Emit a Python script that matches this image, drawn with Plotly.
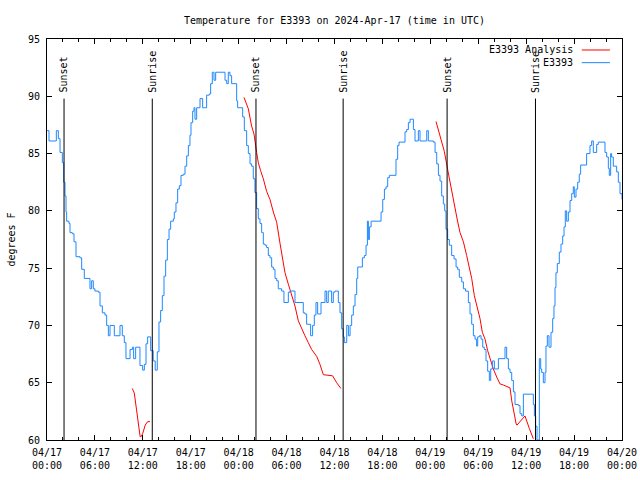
import pandas as pd
import plotly.graph_objects as go

# ---------------- data ----------------
BASE = "2024-04-17 00:00"

# E3393 observed temperature (hours since 04/17 00:00 UTC, degrees F)
obs_hours = [0.00, 0.25, 1.17, 1.42, 1.63, 1.92, 2.09, 2.25, 2.38, 2.46, 2.75, 2.88, 3.17, 3.38, 3.63,
             4.13, 4.34, 4.67, 5.38, 5.59, 5.80, 6.00, 6.43, 6.64, 6.93, 7.26, 7.47, 7.68, 7.89, 8.43,
             9.14, 9.43, 9.68, 9.89, 10.40, 10.70, 10.85, 11.10, 11.64, 11.98, 12.19, 12.40, 12.60,
             12.98, 13.30, 13.55, 13.81, 14.02, 14.23, 14.44, 14.65, 14.86, 15.07, 15.28, 15.48, 15.82,
             15.94, 16.15, 16.36, 16.57, 16.78, 17.07, 17.28, 17.49, 17.70, 17.90, 18.03, 18.24, 18.41,
             18.53, 18.74, 19.16, 19.49, 19.99, 20.32, 20.49, 20.70, 20.91, 21.12, 22.29, 22.50, 22.70,
             22.91, 23.12, 23.75, 23.87, 24.50, 24.71, 25.00, 25.21, 25.42, 25.62, 25.83, 26.04, 26.25,
             26.46, 26.67, 26.88, 27.09, 27.30, 27.50, 27.71, 27.92, 28.13, 28.34, 28.55, 28.76, 28.96,
             29.38, 29.67, 30.22, 30.43, 31.05, 32.09, 32.30, 32.51, 33.01, 33.26, 33.47, 33.68, 33.89,
             34.31, 34.81, 35.02, 35.22, 35.64, 35.85, 36.06, 36.48, 36.69, 36.90, 37.10, 37.23, 37.53,
             37.74, 37.95, 38.15, 38.36, 38.57, 38.78, 38.91, 39.49, 39.74, 39.95, 40.12, 40.24, 40.37,
             40.58, 41.83, 42.04, 42.25, 42.45, 42.66, 42.87, 43.70, 43.91, 44.08, 44.83, 45.04, 45.25,
             45.46, 45.88, 46.08, 46.50, 46.71, 47.55, 47.75, 48.38, 48.59, 48.80, 49.01, 49.21, 49.42,
             49.63, 49.80, 49.96, 50.17, 50.38, 50.67, 50.97, 51.22, 51.42, 51.63, 51.93, 52.14, 52.40,
             52.76, 52.97, 53.18, 53.39, 53.60, 53.80, 53.93, 54.14, 54.35, 54.56, 54.76, 54.97, 55.18,
             55.39, 55.56, 55.77, 56.02, 56.52, 57.35, 57.56, 57.77, 57.98, 58.19, 58.40, 58.60, 59.02,
             59.23, 59.44, 59.65, 60.69, 60.90, 61.03, 61.19, 61.36, 61.65, 61.82, 61.94, 62.15, 62.36,
             62.48, 62.65, 62.86, 63.11, 63.32, 63.48, 63.61, 63.73, 63.90, 64.15, 64.36, 64.57, 64.74,
             64.90, 65.07, 65.28, 65.49, 65.70, 65.90, 66.03, 66.24, 66.45, 66.65, 66.82, 67.57, 67.99,
             68.20, 68.41, 68.83, 69.03, 69.87, 70.08, 70.29, 70.41, 70.58, 70.70, 70.91, 71.33, 71.54,
             71.75, 72.00]
obs_temps = [87.0, 86.1, 87.0, 86.3, 85.1, 84.2, 82.5, 81.3, 79.9, 79.1, 78.9, 78.1, 78.0, 77.3, 76.0,
             75.9, 74.9, 74.1, 73.2, 73.9, 73.2, 73.0, 72.9, 71.7, 71.1, 70.9, 70.0, 69.1, 70.0, 69.1,
             70.0, 69.1, 68.5, 67.1, 67.9, 68.1, 67.1, 68.1, 66.5, 66.1, 66.6, 68.4, 69.0,
             67.8, 66.9, 66.1, 67.7, 70.3, 71.3, 72.6, 74.3, 75.7, 77.5, 78.4, 79.1, 79.3,
             79.9, 80.7, 81.9, 82.2, 83.1, 83.2, 83.9, 84.8, 85.7, 86.6, 87.7, 88.7, 89.0,
             88.0, 89.0, 89.8, 89.0, 90.1, 90.2, 91.1, 92.1, 91.4, 92.1, 91.4, 91.1, 92.1,
             91.8, 91.1, 89.6, 89.0, 88.2, 87.0, 85.7, 85.0, 84.1, 83.9, 82.8, 81.6, 80.2,
             79.3, 78.9, 78.1, 77.1, 77.0, 76.8, 76.1, 75.9, 75.1, 74.9, 74.1, 73.9, 73.2,
             73.0, 72.0, 72.9, 73.0, 72.0, 71.1, 71.0, 70.1, 69.1, 70.0, 70.9, 72.0, 71.0,
             72.0, 73.0, 72.0, 73.0, 72.0, 72.9, 73.0, 72.0, 71.1, 69.7, 69.0, 68.5, 70.0,
             69.1, 70.0, 70.9, 71.7, 72.7, 74.1, 75.1, 75.9, 76.1, 77.0, 79.1, 77.5, 78.6,
             79.1, 79.9, 81.0, 81.9, 82.1, 82.9, 83.1, 84.5, 85.7, 86.0, 86.9, 87.1, 87.7,
             88.0, 87.1, 86.1, 87.0, 86.1, 87.0, 86.1, 86.0, 85.1, 84.1, 83.1, 82.6, 81.3,
             80.6, 80.0, 78.4, 77.5, 77.0, 76.1, 75.8, 75.1, 74.9, 74.2, 73.8, 73.2, 73.0,
             72.0, 71.0, 70.1, 69.1, 68.8, 68.2, 69.0, 69.1, 68.8, 68.1, 67.9, 66.9, 66.0,
             65.2, 66.2, 66.9, 66.2, 67.1, 68.1, 67.1, 66.2, 65.9, 65.2, 64.2, 63.1, 63.0,
             62.3, 62.1, 64.0, 64.0, 63.1, 62.1, 61.2, 60.0, 67.1, 66.2, 65.9, 65.0, 65.9,
             68.2, 69.1, 68.1, 69.4, 70.6, 71.7, 73.3, 74.6, 75.4, 76.4, 77.1, 77.8, 78.6,
             80.0, 79.1, 79.9, 80.9, 81.5, 82.1, 81.2, 81.9, 82.5, 83.2, 84.0, 85.0, 85.7,
             86.1, 85.1, 85.8, 86.0, 85.1, 84.7, 83.7, 83.1, 85.0, 84.7, 83.9, 83.4, 82.5,
             81.5, 81.0]

# E3393 Analysis (three separate segments, None = gap)
ana_hours = [10.68, 10.93, 11.20, 11.45, 11.66, 11.80, 12.00, 12.30, 12.60, 12.90, None,
             24.67, 25.21, 25.62, 25.92, 26.25, 26.46, 26.75, 27.09, 27.50, 27.92, 28.34, 28.76,
             29.17, 29.46, 29.80, 30.22, 30.63, 31.05, 31.47, 31.88, 32.30, 32.72, 33.14, 33.77,
             34.18, 34.60, 35.77, 36.27, 36.80, None,
             48.71, 49.75, 50.17, 50.46, 50.76, 51.09, 51.38, 51.72, 52.14, 52.55, 52.84, 53.18,
             53.51, 53.80, 54.22, 54.51, 54.85, 55.18, 55.48, 55.89, 56.31, 56.72, 57.14, 57.56,
             57.98, 58.20, 58.50, 58.75, 58.85, 59.85, 60.40, 60.90]
ana_temps = [64.5, 64.1, 62.7, 61.6, 60.3, 60.3, 60.6, 61.3, 61.6, 61.6, None,
             89.9, 88.9, 87.4, 86.7, 85.1, 84.2, 83.5, 82.8, 81.7, 81.0, 79.9, 79.0,
             77.2, 75.8, 74.6, 73.6, 72.6, 71.7, 70.4, 69.7, 69.1, 68.5, 67.9, 67.3,
             66.6, 65.7, 65.6, 65.0, 64.5, None,
             87.8, 85.2, 83.6, 82.5, 81.6, 80.2, 79.2, 78.1, 77.3, 76.1, 75.2, 74.1,
             72.6, 71.7, 70.6, 69.4, 68.8, 67.8, 67.1, 66.2, 65.5, 64.9, 64.8, 64.7,
             64.55, 63.4, 62.2, 61.4, 61.3, 62.1, 61.0, 60.1]

# Sun events
event_times = ["2024-04-17 02:08", "2024-04-17 13:11", "2024-04-18 02:10",
               "2024-04-18 13:05", "2024-04-19 02:06", "2024-04-19 13:10"]
event_labels = ["Sunset", "Sunrise", "Sunset", "Sunrise", "Sunset", "Sunrise"]
event_line_top = 89.8

tick_times = ["2024-04-17 00:00", "2024-04-17 06:00", "2024-04-17 12:00", "2024-04-17 18:00",
              "2024-04-18 00:00", "2024-04-18 06:00", "2024-04-18 12:00", "2024-04-18 18:00",
              "2024-04-19 00:00", "2024-04-19 06:00", "2024-04-19 12:00", "2024-04-19 18:00",
              "2024-04-20 00:00"]
tick_text = ["04/17<br>00:00", "04/17<br>06:00", "04/17<br>12:00", "04/17<br>18:00",
             "04/18<br>00:00", "04/18<br>06:00", "04/18<br>12:00", "04/18<br>18:00",
             "04/19<br>00:00", "04/19<br>06:00", "04/19<br>12:00", "04/19<br>18:00",
             "04/20<br>00:00"]

series_names = ["E3393 Analysis", "E3393"]
series_colors = ["#ff0000", "#1e88ff"]

# ---------------- build ----------------
base = pd.Timestamp(BASE)


def to_time(hours):
    return [None if h is None else base + pd.Timedelta(hours=h) for h in hours]


FONT = "DejaVu Sans Mono"

fig = go.Figure()
fig.add_trace(go.Scatter(x=to_time(ana_hours), y=ana_temps, mode="lines", name=series_names[0],
                         line=dict(color=series_colors[0], width=1), showlegend=False,
                         connectgaps=False))
fig.add_trace(go.Scatter(x=to_time(obs_hours), y=obs_temps, mode="lines", name=series_names[1],
                         line=dict(color=series_colors[1], width=1, shape="hv"), showlegend=False))

for t, lab in zip(event_times, event_labels):
    fig.add_shape(type="line", xref="x", yref="y", x0=t, x1=t, y0=60, y1=event_line_top,
                  line=dict(color="black", width=1))
    fig.add_annotation(x=t, y=event_line_top, xref="x", yref="y", text=lab, textangle=-90,
                       showarrow=False, xanchor="center", yanchor="bottom", yshift=4,
                       font=dict(family=FONT, size=10, color="black"))

# manual gnuplot-style legend (text right, sample line after)
legend_rows_y = [0.9726, 0.941]
for name, col, ly in zip(series_names, series_colors, legend_rows_y):
    fig.add_annotation(x=0.9175, y=ly, xref="paper", yref="paper", text=name, showarrow=False,
                       xanchor="right", yanchor="middle",
                       font=dict(family=FONT, size=10, color="black"))
    fig.add_shape(type="line", xref="paper", yref="paper", x0=0.930, x1=0.979, y0=ly, y1=ly,
                  line=dict(color=col, width=1))

fig.update_layout(
    width=640, height=480,
    margin=dict(l=47, r=18, t=39, b=40, autoexpand=False),
    paper_bgcolor="white", plot_bgcolor="white",
    font=dict(family=FONT, size=10, color="black"),
    title=dict(text="Temperature for E3393 on 2024-Apr-17 (time in UTC)", x=0.5, xref="paper",
               y=1 - 20 / 480, yanchor="middle", xanchor="center",
               font=dict(family=FONT, size=10, color="black")),
    showlegend=False,
)
fig.update_xaxes(
    automargin=False,
    range=[tick_times[0], tick_times[-1]], tickvals=tick_times, ticktext=tick_text,
    showgrid=False, zeroline=False, showline=True, linecolor="black", linewidth=1, mirror="allticks",
    ticks="inside", ticklen=5, tickcolor="black", tickwidth=1, ticklabelstandoff=3,
    minor=dict(dtick=2 * 3600 * 1000, tick0=tick_times[0], ticks="inside", ticklen=3,
               tickcolor="black", tickwidth=1, showgrid=False),
    tickfont=dict(family=FONT, size=10, color="black"),
)
fig.update_yaxes(
    automargin=False,
    range=[60, 95], dtick=5, tick0=60,
    showgrid=False, zeroline=False, showline=True, linecolor="black", linewidth=1, mirror="allticks",
    ticks="inside", ticklen=5, tickcolor="black", tickwidth=1, ticklabelstandoff=4,
    title=dict(text="degrees F", standoff=10, font=dict(family=FONT, size=10, color="black")),
    tickfont=dict(family=FONT, size=10, color="black"),
)

fig.write_html("out.html", config={"displayModeBar": False},
               post_script="document.body.style.margin='0';document.body.style.padding='0';")
